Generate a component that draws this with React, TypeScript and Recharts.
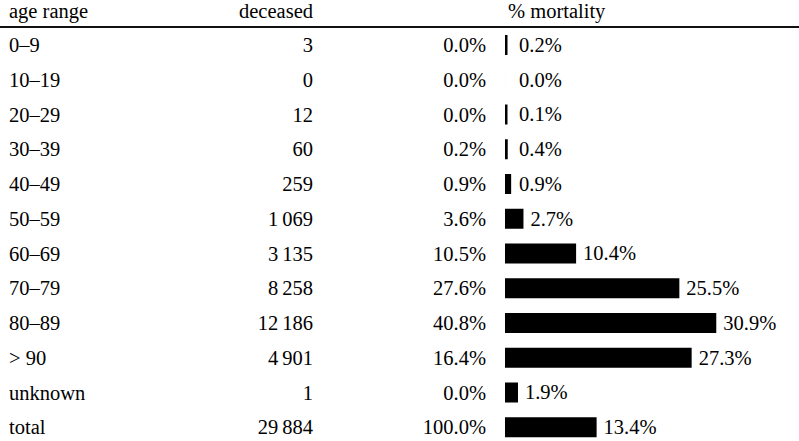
import React from 'react';
import { BarChart, Bar, XAxis, YAxis, LabelList } from 'recharts';

const ageRanges = ['0–9', '10–19', '20–29', '30–39', '40–49', '50–59', '60–69', '70–79', '80–89', '> 90', 'unknown', 'total'];
const deceased = [3, 0, 12, 60, 259, 1069, 3135, 8258, 12186, 4901, 1, 29884];
const sharePct = [0.0, 0.0, 0.0, 0.2, 0.9, 3.6, 10.5, 27.6, 40.8, 16.4, 0.0, 100.0];
const mortalityPct = [0.2, 0.0, 0.1, 0.4, 0.9, 2.7, 10.4, 25.5, 30.9, 27.3, 1.9, 13.4];

const FONT = "'Liberation Serif', 'DejaVu Serif', 'Noto Serif', serif";
const FS = 20.5;

// thin space as thousands separator, like "29 884"
const fmtInt = (n: number) => String(n).replace(/\B(?=(\d{3})+(?!\d))/g, '\u2009');
const fmtPct = (n: number) => `${n.toFixed(1)}%`;

const rows = ageRanges.map((age, i) => ({
  age,
  deceased: deceased[i],
  share: sharePct[i],
  mortality: mortalityPct[i]
}));

// one tick draws the three text columns of a row
const RowTick = (props: any) => {
  const { y, payload } = props;
  const i = payload?.index ?? props.index ?? 0;
  const base = y + 6.8;
  return (
    <g style={{ fontFamily: FONT, fontSize: FS }} fill="#000">
      <text x={9} y={base} textAnchor="start">{ageRanges[i]}</text>
      <text x={313} y={base} textAnchor="end">{fmtInt(deceased[i])}</text>
      <text x={486} y={base} textAnchor="end">{fmtPct(sharePct[i])}</text>
    </g>
  );
};

const BarLabel = (props: any) => {
  const { x, y, width, height, value } = props;
  const lx = Math.max(Number(x) + Number(width), 512) + 7;
  return (
    <text x={lx} y={Number(y) + Number(height) / 2 + 6.8} style={{ fontFamily: FONT, fontSize: FS }} fill="#000" textAnchor="start">
      {fmtPct(Number(value))}
    </text>
  );
};

const headerStyle: React.CSSProperties = {
  position: 'absolute',
  top: 0,
  fontFamily: FONT,
  fontSize: FS,
  lineHeight: '22px',
  color: '#000',
  whiteSpace: 'nowrap'
};

export default function App() {
  return (
    <div style={{ position: 'absolute', left: 0, top: 0, width: 799, height: 441, overflow: 'hidden', background: '#fff' }}>
      <div style={{ ...headerStyle, left: 9 }}>age range</div>
      <div style={{ ...headerStyle, right: 799 - 313 }}>deceased</div>
      <div style={{ ...headerStyle, left: 508 }}>% mortality</div>
      <div style={{ position: 'absolute', left: 0, top: 26, width: 799, height: 2, background: '#111' }} />
      <div style={{ position: 'absolute', left: 0, top: 0 }}>
        <BarChart
          width={799}
          height={445}
          data={rows}
          layout="vertical"
          margin={{ top: 28, right: 0, bottom: 0, left: 0 }}
        >
          <XAxis type="number" hide domain={[0, 43]} allowDataOverflow />
          <YAxis
            type="category"
            dataKey="age"
            width={505}
            axisLine={false}
            tickLine={false}
            tick={<RowTick />}
            interval={0}
          />
          <Bar
            dataKey="mortality"
            fill="#000"
            barSize={20}
            isAnimationActive={false}
            minPointSize={(v: number) => (v > 0 ? 2.5 : 0.01)}
          >
            <LabelList dataKey="mortality" content={<BarLabel />} />
          </Bar>
        </BarChart>
      </div>
    </div>
  );
}
